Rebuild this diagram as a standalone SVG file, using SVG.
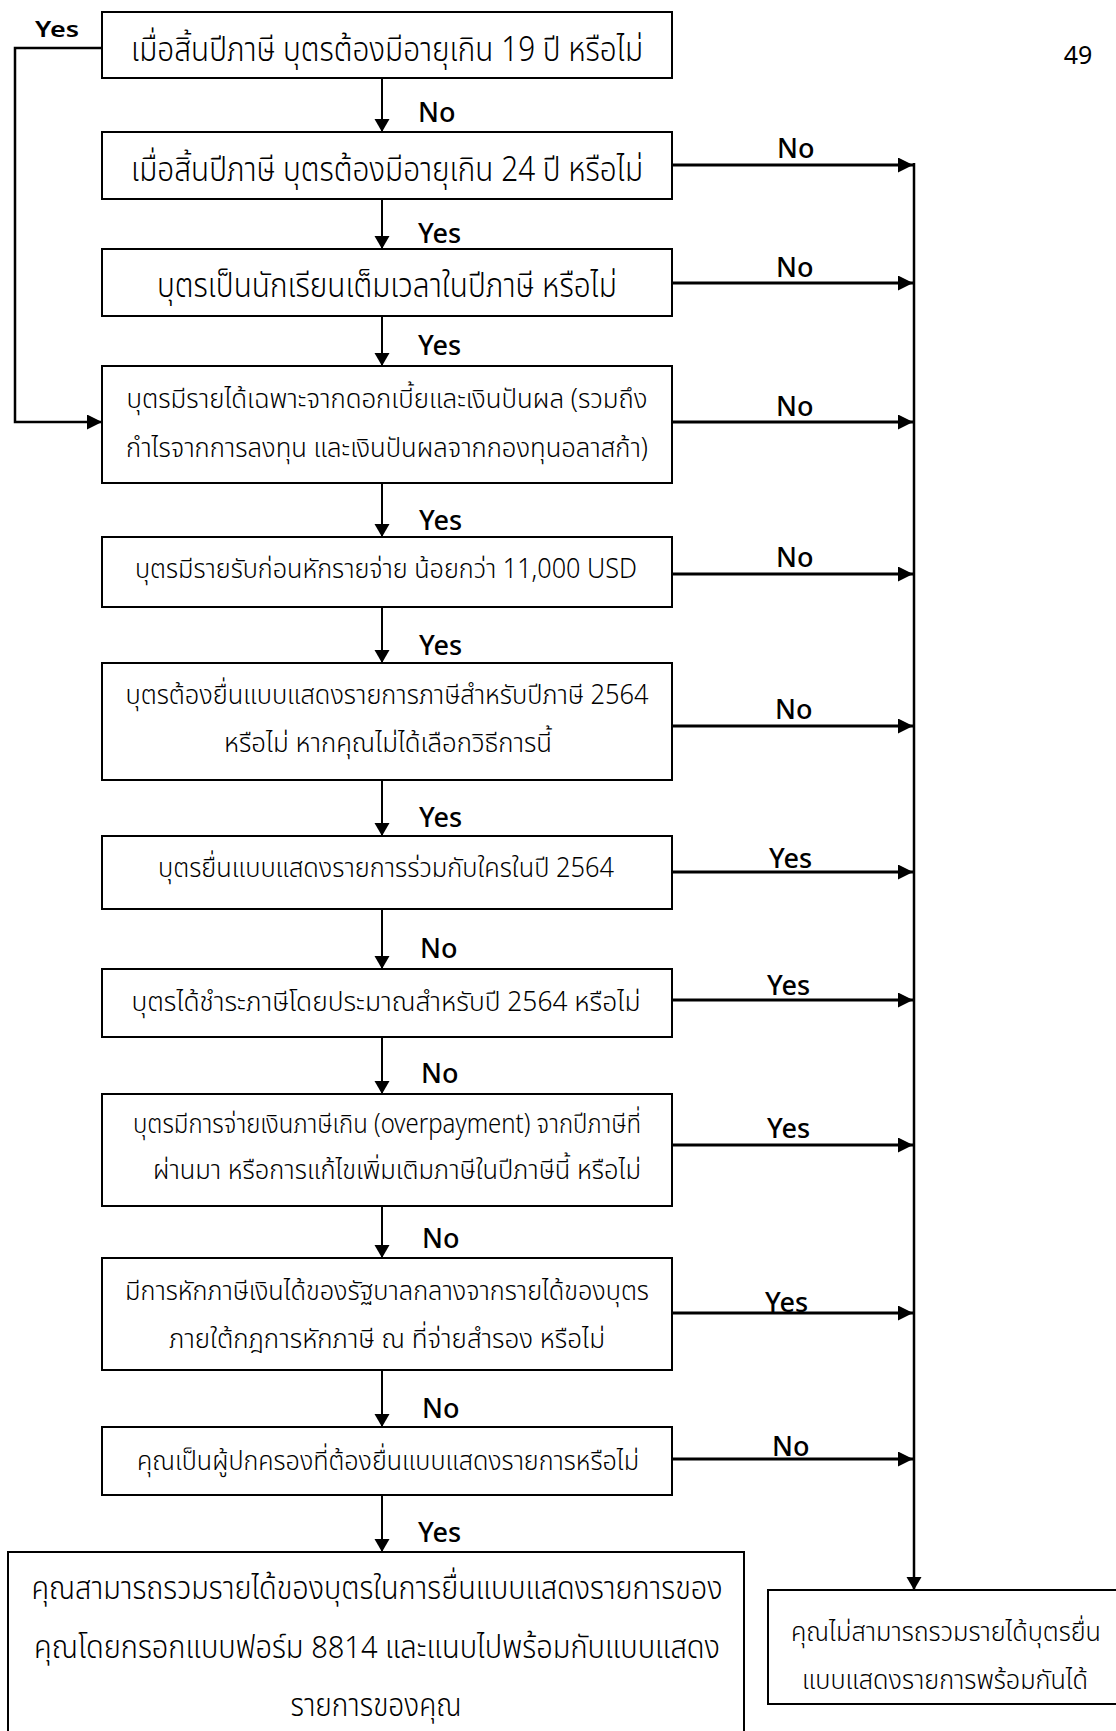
<svg xmlns="http://www.w3.org/2000/svg" width="1116" height="1731" viewBox="0 0 1116 1731">
<style>
.box{fill:#fff;stroke:#000;stroke-width:2}
.t{font-family:'Noto Sans Thai','Noto Sans','DejaVu Sans',sans-serif;font-weight:300;fill:#000;text-anchor:middle}
.big{font-size:34px}
.mid{font-size:27px}
.lb{font-family:'Noto Sans','Open Sans',sans-serif;font-size:27px;font-weight:500;fill:#000}
.pg{font-family:'Noto Sans','Open Sans',sans-serif;font-size:25px;font-weight:400;fill:#000;text-anchor:middle}
.c{fill:none;stroke:#000}
.r{stroke-width:3}
.d{stroke-width:2}
.v{stroke-width:2.5}
</style>
<defs>
<marker id="ah" markerUnits="userSpaceOnUse" markerWidth="16" markerHeight="16" refX="15" refY="7.5" orient="auto" viewBox="0 0 16 16"><path d="M0,0 L15,7.5 L0,15 z" fill="#000"/></marker>
<marker id="ahd" markerUnits="userSpaceOnUse" markerWidth="16" markerHeight="16" refX="13" refY="7.5" orient="auto" viewBox="0 0 16 16"><path d="M0,0 L13,7.5 L0,15 z" fill="#000"/></marker>
</defs>
<rect width="1116" height="1731" fill="#fff"/>
<text class="pg" x="1078" y="64">49</text>

<g id="connectors">
<path class="c v" d="M102,48 H15 V422 H102" marker-end="url(#ah)"/>
<path class="c d" d="M382,78 V132" marker-end="url(#ahd)"/>
<path class="c d" d="M382,199 V249" marker-end="url(#ahd)"/>
<path class="c d" d="M382,316 V366" marker-end="url(#ahd)"/>
<path class="c d" d="M382,483 V537" marker-end="url(#ahd)"/>
<path class="c d" d="M382,607 V663" marker-end="url(#ahd)"/>
<path class="c d" d="M382,780 V836" marker-end="url(#ahd)"/>
<path class="c d" d="M382,909 V969" marker-end="url(#ahd)"/>
<path class="c d" d="M382,1037 V1094" marker-end="url(#ahd)"/>
<path class="c d" d="M382,1206 V1258" marker-end="url(#ahd)"/>
<path class="c d" d="M382,1370 V1427" marker-end="url(#ahd)"/>
<path class="c d" d="M382,1495 V1552" marker-end="url(#ahd)"/>
<path class="c r" d="M672,165 H913" marker-end="url(#ah)"/>
<path class="c r" d="M672,283 H913" marker-end="url(#ah)"/>
<path class="c r" d="M672,422 H913" marker-end="url(#ah)"/>
<path class="c r" d="M672,574 H913" marker-end="url(#ah)"/>
<path class="c r" d="M672,726 H913" marker-end="url(#ah)"/>
<path class="c r" d="M672,872 H913" marker-end="url(#ah)"/>
<path class="c r" d="M672,1000 H913" marker-end="url(#ah)"/>
<path class="c r" d="M672,1145 H913" marker-end="url(#ah)"/>
<path class="c r" d="M672,1313 H913" marker-end="url(#ah)"/>
<path class="c r" d="M672,1459 H913" marker-end="url(#ah)"/>
<path class="c v" d="M914,163 V1590" marker-end="url(#ahd)"/>
<text class="lb" style="font-weight:600" transform="translate(35,37) scale(1,0.8)">Yes</text>
<text class="lb" x="418" y="122">No</text>
<text class="lb" x="418" y="243">Yes</text>
<text class="lb" x="418" y="355">Yes</text>
<text class="lb" x="419" y="530">Yes</text>
<text class="lb" x="419" y="655">Yes</text>
<text class="lb" x="419" y="827">Yes</text>
<text class="lb" x="420" y="958">No</text>
<text class="lb" x="421" y="1083">No</text>
<text class="lb" x="422" y="1248">No</text>
<text class="lb" x="422" y="1418">No</text>
<text class="lb" x="418" y="1542">Yes</text>
<text class="lb" x="777" y="158">No</text>
<text class="lb" x="776" y="277">No</text>
<text class="lb" x="776" y="416">No</text>
<text class="lb" x="776" y="567">No</text>
<text class="lb" x="775" y="719">No</text>
<text class="lb" x="769" y="868">Yes</text>
<text class="lb" x="767" y="995">Yes</text>
<text class="lb" x="767" y="1138">Yes</text>
<text class="lb" x="765" y="1312">Yes</text>
<text class="lb" x="772" y="1456">No</text>
</g>

<g id="n1"><rect class="box" x="102" y="12" width="570" height="66"/>
<text class="t big" x="387" y="61" textLength="512" lengthAdjust="spacingAndGlyphs">เมื่อสิ้นปีภาษี บุตรต้องมีอายุเกิน 19 ปี หรือไม่</text></g>
<g id="n2"><rect class="box" x="102" y="132" width="570" height="67"/>
<text class="t big" x="387" y="181" textLength="512" lengthAdjust="spacingAndGlyphs">เมื่อสิ้นปีภาษี บุตรต้องมีอายุเกิน 24 ปี หรือไม่</text></g>
<g id="n3"><rect class="box" x="102" y="249" width="570" height="67"/>
<text class="t big" x="387" y="297" textLength="460" lengthAdjust="spacingAndGlyphs">บุตรเป็นนักเรียนเต็มเวลาในปีภาษี หรือไม่</text></g>
<g id="n4"><rect class="box" x="102" y="366" width="570" height="117"/>
<text class="t mid" x="387" y="408" textLength="521" lengthAdjust="spacingAndGlyphs">บุตรมีรายได้เฉพาะจากดอกเบี้ยและเงินปันผล (รวมถึง</text>
<text class="t mid" x="387" y="457" textLength="522" lengthAdjust="spacingAndGlyphs">กำไรจากการลงทุน และเงินปันผลจากกองทุนอลาสก้า)</text></g>
<g id="n5"><rect class="box" x="102" y="537" width="570" height="70"/>
<text class="t mid" x="386" y="578" textLength="502" lengthAdjust="spacingAndGlyphs">บุตรมีรายรับก่อนหักรายจ่าย น้อยกว่า 11,000 USD</text></g>
<g id="n6"><rect class="box" x="102" y="663" width="570" height="117"/>
<text class="t mid" x="387" y="704" textLength="523" lengthAdjust="spacingAndGlyphs">บุตรต้องยื่นแบบแสดงรายการภาษีสำหรับปีภาษี 2564</text>
<text class="t mid" x="388" y="752" textLength="328" lengthAdjust="spacingAndGlyphs">หรือไม่ หากคุณไม่ได้เลือกวิธีการนี้</text></g>
<g id="n7"><rect class="box" x="102" y="836" width="570" height="73"/>
<text class="t mid" x="386" y="877" textLength="456" lengthAdjust="spacingAndGlyphs">บุตรยื่นแบบแสดงรายการร่วมกับใครในปี 2564</text></g>
<g id="n8"><rect class="box" x="102" y="969" width="570" height="68"/>
<text class="t mid" x="386" y="1011" textLength="509" lengthAdjust="spacingAndGlyphs">บุตรได้ชำระภาษีโดยประมาณสำหรับปี 2564 หรือไม่</text></g>
<g id="n9"><rect class="box" x="102" y="1094" width="570" height="112"/>
<text class="t mid" x="387" y="1133" textLength="508" lengthAdjust="spacingAndGlyphs">บุตรมีการจ่ายเงินภาษีเกิน (overpayment) จากปีภาษีที่</text>
<text class="t mid" x="397" y="1179" textLength="488" lengthAdjust="spacingAndGlyphs">ผ่านมา หรือการแก้ไขเพิ่มเติมภาษีในปีภาษีนี้ หรือไม่</text></g>
<g id="n10"><rect class="box" x="102" y="1258" width="570" height="112"/>
<text class="t mid" x="387" y="1300" textLength="524" lengthAdjust="spacingAndGlyphs">มีการหักภาษีเงินได้ของรัฐบาลกลางจากรายได้ของบุตร</text>
<text class="t mid" x="387" y="1348" textLength="436" lengthAdjust="spacingAndGlyphs">ภายใต้กฎการหักภาษี ณ ที่จ่ายสำรอง หรือไม่</text></g>
<g id="n11"><rect class="box" x="102" y="1427" width="570" height="68"/>
<text class="t mid" x="388" y="1470" textLength="502" lengthAdjust="spacingAndGlyphs">คุณเป็นผู้ปกครองที่ต้องยื่นแบบแสดงรายการหรือไม่</text></g>
<g id="n12"><rect class="box" x="8" y="1552" width="736" height="200"/>
<text class="t" font-size="32" x="377" y="1599" textLength="691" lengthAdjust="spacingAndGlyphs">คุณสามารถรวมรายได้ของบุตรในการยื่นแบบแสดงรายการของ</text>
<text class="t" font-size="32" x="377" y="1658" textLength="686" lengthAdjust="spacingAndGlyphs">คุณโดยกรอกแบบฟอร์ม 8814 และแนบไปพร้อมกับแบบแสดง</text>
<text class="t" font-size="32" x="376" y="1716" textLength="171" lengthAdjust="spacingAndGlyphs">รายการของคุณ</text></g>
<g id="n13"><rect class="box" x="768" y="1590" width="360" height="114"/>
<text class="t" font-size="26" x="946" y="1641" textLength="310" lengthAdjust="spacingAndGlyphs">คุณไม่สามารถรวมรายได้บุตรยื่น</text>
<text class="t" font-size="26" x="945" y="1689" textLength="286" lengthAdjust="spacingAndGlyphs">แบบแสดงรายการพร้อมกันได้</text></g>
</svg>
